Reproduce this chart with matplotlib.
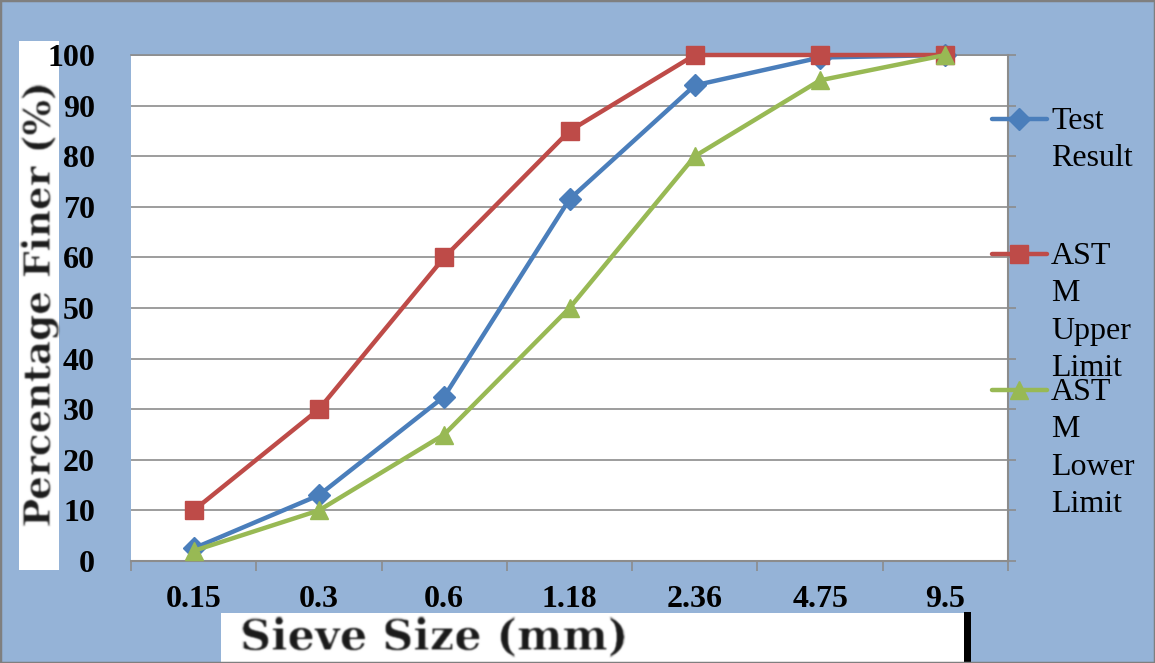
import numpy as np
import matplotlib.pyplot as plt
from matplotlib.patches import Rectangle
from matplotlib.lines import Line2D

# sieve analysis data
sieve_sizes = ["0.15", "0.3", "0.6", "1.18", "2.36", "4.75", "9.5"]
test_result = [2.5, 13, 32.5, 71.5, 94, 99.5, 100]
astm_upper = [10, 30, 60, 85, 100, 100, 100]
astm_lower = [2, 10, 25, 50, 80, 95, 100]

series_names = ["Test\nResult", "AST\nM\nUpper\nLimit", "AST\nM\nLower\nLimit"]

bg = "#95B3D7"
blue = "#4A7EBB"
red = "#BE4B48"
green = "#98B954"
grid_col = "#8C8C8C"

fig = plt.figure(figsize=(11.55, 6.63), dpi=100, facecolor=bg)
W, H = 1155, 663

def fx(px):
    return px / W

def fy(py):
    return 1 - py / H

def soften(im, dpi):
    # light blur for the pasted axis titles
    pad = 3
    a = np.pad(im, ((pad, pad), (pad, pad), (0, 0)))
    k = np.array([1, 4, 6, 4, 1], float)
    k /= k.sum()
    out = sum(k[i] * np.roll(a, i - 2, axis=0) for i in range(5))
    out = sum(k[i] * np.roll(out, i - 2, axis=1) for i in range(5))
    return out, -pad, -pad

ax = fig.add_axes([fx(131), fy(561), fx(1008) - fx(131), fy(55) - fy(561)])
ax.set_facecolor("white")

x = np.arange(len(sieve_sizes))
ax.plot(x, test_result, color=blue, lw=3.2, marker="D", ms=11, zorder=3, clip_on=False)
ax.plot(x, astm_upper, color=red, lw=3.2, marker="s", ms=12.5, zorder=4, clip_on=False)
ax.plot(x, astm_lower, color=green, lw=3.2, marker="^", ms=13, zorder=5, clip_on=False)

ax.set_xlim(-0.5, len(sieve_sizes) - 0.5)
ax.set_ylim(0, 100)
ax.set_yticks(np.arange(0, 101, 10))
ax.yaxis.grid(True, color=grid_col, lw=1.2)
ax.set_axisbelow(True)

ax.set_xticks(x)
ax.set_xticklabels(sieve_sizes)
ax.set_xticks(np.arange(-0.5, len(sieve_sizes)), minor=True)
ax.tick_params(axis="x", which="major", length=0, pad=17)
ax.tick_params(axis="x", which="minor", length=7, width=1.2, color=grid_col, direction="out")
ax.tick_params(axis="y", left=False, right=True, labelleft=True, labelright=False,
               length=6, width=1.2, color=grid_col, direction="out", pad=20)

for lab in ax.get_xticklabels() + ax.get_yticklabels():
    lab.set_fontfamily("Liberation Serif")
    lab.set_fontweight("bold")
    lab.set_fontsize(23)

ax.spines["left"].set_visible(False)
ax.spines["top"].set_color(grid_col)
ax.spines["top"].set_linewidth(1.2)
ax.spines["bottom"].set_color(grid_col)
ax.spines["bottom"].set_linewidth(1.5)
ax.spines["right"].set_color(grid_col)
ax.spines["right"].set_linewidth(1.5)

# legend drawn beside the plot, one entry per series
legend_styles = [(blue, "D", 11), (red, "s", 12.5), (green, "^", 13)]
legend_y = [119, 254, 390]
for name, (col, mk, ms), ly in zip(series_names, legend_styles, legend_y):
    fig.add_artist(Line2D([fx(992), fx(1047)], [fy(ly), fy(ly)], color=col, lw=3.2,
                          solid_capstyle="round", transform=fig.transFigure))
    fig.add_artist(Line2D([fx(1019)], [fy(ly)], color=col, marker=mk, ms=ms,
                          transform=fig.transFigure))
    fig.text(fx(1051), fy(ly - 12), name, family="Liberation Serif", fontsize=23,
             va="top", ha="left", linespacing=1.38)

# axis titles in white boxes
fig.add_artist(Rectangle((fx(19), fy(570)), fx(59) - fx(19), fy(41) - fy(570),
                         transform=fig.transFigure, facecolor="white", edgecolor="none",
                         zorder=-1))
ylab = fig.text(fx(40), fy(304), "Percentage Finer (%)", rotation=90, ha="center",
                va="center", family="DejaVu Serif", fontweight="bold", fontsize=27,
                color="#1a1a1a")
ylab.set_agg_filter(soften)

fig.add_artist(Rectangle((fx(964), fy(663)), fx(971) - fx(964), fy(612) - fy(663),
                         transform=fig.transFigure, facecolor="black", edgecolor="none",
                         zorder=-1))
fig.add_artist(Rectangle((fx(221), fy(663)), fx(964) - fx(221), fy(613) - fy(663),
                         transform=fig.transFigure, facecolor="white", edgecolor="none",
                         zorder=-1))
xlab = fig.text(fx(240), fy(637), "Sieve Size (mm)", ha="left", va="center",
                family="DejaVu Serif", fontweight="bold", fontsize=31, color="#1a1a1a")
xlab.set_agg_filter(soften)

# outer frame
fig.add_artist(Rectangle((0, 0), 1, 1, transform=fig.transFigure, facecolor="none",
                         edgecolor="#7F7F7F", lw=2.5))

fig.savefig("out.png", dpi=100, facecolor=bg)
